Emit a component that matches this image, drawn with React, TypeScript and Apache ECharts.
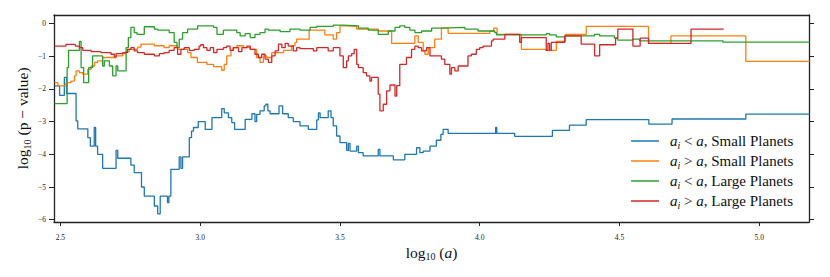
import React, { useEffect, useRef } from "react";
import * as echarts from "echarts";

const SERIES_NAMES = ["smallIn", "smallOut", "largeIn", "largeOut"];
const COLORS = ["#1f77b4", "#ff7f0e", "#2ca02c", "#d62728"];
const X_TICKS = [2.5, 3.0, 3.5, 4.0, 4.5, 5.0];
const Y_TICKS = [-6, -5, -4, -3, -2, -1, 0];
const X_MIN = 2.477;
const X_MAX = 5.178;
const Y_MIN = -6.07;
const Y_MAX = 0.26;

// a_i < a, Small Planets
const smallInner: [number, number][] = [
  [2.479, -1.91], [2.497, -2.2], [2.514, -1.65], [2.522, -2.14], [2.556, -2.98], [2.562, -3.22],
  [2.598, -3.49], [2.607, -3.75], [2.621, -3.18], [2.626, -3.75], [2.633, -4.0], [2.651, -4.43],
  [2.699, -3.88], [2.705, -4.12], [2.752, -4.33], [2.764, -4.56], [2.79, -5.0], [2.8, -5.28],
  [2.836, -5.58], [2.848, -5.82], [2.857, -5.28], [2.883, -5.48], [2.888, -5.28], [2.895, -4.46],
  [2.925, -4.08], [2.931, -4.43], [2.937, -4.08], [2.961, -3.49], [2.969, -3.29], [2.976, -3.18],
  [2.993, -3.0], [3.018, -3.24], [3.042, -2.88], [3.077, -2.6], [3.086, -2.73], [3.101, -2.88],
  [3.113, -3.03], [3.123, -3.24], [3.161, -2.93], [3.185, -2.76], [3.196, -3.0], [3.202, -2.78],
  [3.214, -2.67], [3.229, -2.52], [3.235, -2.47], [3.242, -2.67], [3.25, -2.76], [3.282, -2.52],
  [3.295, -2.76], [3.315, -2.88], [3.333, -3.0], [3.357, -3.13], [3.387, -3.24], [3.417, -2.95],
  [3.423, -2.73], [3.429, -2.88], [3.458, -2.67], [3.468, -2.88], [3.476, -3.13], [3.488, -3.44],
  [3.5, -3.64], [3.524, -3.88], [3.53, -3.67], [3.536, -3.9], [3.56, -3.75], [3.566, -3.95],
  [3.583, -4.05], [3.637, -3.85], [3.643, -4.05], [3.691, -4.17], [3.732, -4.0], [3.774, -3.8],
  [3.786, -3.95], [3.798, -3.9], [3.822, -3.75], [3.845, -3.57], [3.861, -3.39], [3.869, -3.24],
  [3.887, -3.36], [4.057, -3.18], [4.061, -3.36], [4.125, -3.45], [4.26, -3.27], [4.321, -3.11],
  [4.381, -2.94], [4.605, -3.08], [4.688, -2.92], [4.952, -2.77], [5.18, -2.77],
];

// a_i > a, Small Planets
const smallOuter: [number, number][] = [
  [2.479, -1.81], [2.491, -1.91], [2.52, -1.81], [2.538, -1.76], [2.55, -1.6], [2.556, -1.45],
  [2.568, -1.5], [2.58, -1.55], [2.598, -1.4], [2.61, -1.3], [2.622, -1.19], [2.633, -1.14],
  [2.651, -1.04], [2.699, -0.99], [2.723, -0.92], [2.735, -0.86], [2.746, -0.79], [2.776, -0.72],
  [2.788, -0.63], [2.836, -0.68], [2.871, -0.74], [2.889, -0.68], [2.919, -0.79], [2.955, -0.89],
  [2.967, -1.04], [2.99, -1.19], [3.024, -1.25], [3.048, -1.32], [3.077, -1.43], [3.086, -1.25],
  [3.095, -0.99], [3.11, -0.82], [3.117, -0.74], [3.131, -0.68], [3.155, -0.74], [3.179, -0.79],
  [3.202, -1.04], [3.214, -1.19], [3.226, -0.99], [3.238, -1.04], [3.256, -0.89], [3.298, -0.82],
  [3.327, -0.68], [3.339, -0.58], [3.345, -0.48], [3.39, -0.2], [3.446, -0.35], [3.476, -0.48],
  [3.488, -0.28], [3.5, -0.07], [3.518, -0.09], [3.56, -0.17], [3.637, -0.23], [3.685, -0.61],
  [3.768, -0.38], [3.78, -0.58], [3.798, -0.84], [3.804, -0.94], [3.816, -0.74], [3.839, -0.48],
  [3.863, -0.14], [3.887, -0.3], [4.036, -0.23], [4.05, -0.14], [4.062, -0.33], [4.149, -0.79],
  [4.236, -0.82], [4.274, -0.55], [4.307, -0.33], [4.381, -0.09], [4.604, -0.61], [4.684, -0.38],
  [4.952, -1.16], [5.18, -1.16],
];

// a_i < a, Large Planets
const largeInner: [number, number][] = [
  [2.479, -2.45], [2.524, -1.35], [2.529, -0.82], [2.568, -0.55], [2.574, -1.35], [2.583, -1.81],
  [2.601, -1.35], [2.615, -0.99], [2.651, -1.3], [2.657, -1.14], [2.675, -1.3], [2.687, -1.6],
  [2.699, -1.3], [2.705, -1.45], [2.735, -0.74], [2.743, -0.43], [2.752, -0.12], [2.764, -0.28],
  [2.774, -0.33], [2.8, -0.1], [2.836, -0.17], [2.848, -0.2], [2.889, -0.28], [2.907, -0.58],
  [2.917, -0.74], [2.925, -0.48], [2.937, -0.28], [2.955, -0.17], [2.991, -0.07], [3.048, -0.12],
  [3.06, -0.33], [3.083, -0.2], [3.131, -0.28], [3.143, -0.38], [3.161, -0.31], [3.179, -0.43],
  [3.196, -0.33], [3.214, -0.28], [3.232, -0.17], [3.244, -0.2], [3.286, -0.25], [3.321, -0.17],
  [3.357, -0.2], [3.393, -0.12], [3.417, -0.09], [3.476, -0.05], [3.512, -0.07], [3.566, -0.14],
  [3.601, -0.2], [3.637, -0.33], [3.673, -0.23], [3.697, -0.12], [3.714, -0.07], [3.732, -0.12],
  [3.75, -0.2], [3.768, -0.28], [3.792, -0.23], [3.828, -0.14], [3.863, -0.12], [3.947, -0.17],
  [3.994, -0.23], [4.054, -0.28], [4.06, -0.35], [4.238, -0.31], [4.25, -0.35], [4.274, -0.41],
  [4.304, -0.38], [4.411, -0.33], [4.429, -0.38], [4.482, -0.45], [4.494, -0.51], [4.548, -0.48],
  [4.572, -0.53], [4.87, -0.57], [5.18, -0.57],
];

// a_i > a, Large Planets
const largeOuter: [number, number][] = [
  [2.479, -0.69], [2.52, -0.64], [2.553, -0.69], [2.568, -0.74], [2.58, -0.82], [2.61, -0.86],
  [2.645, -0.89], [2.681, -0.94], [2.693, -1.02], [2.699, -0.92], [2.723, -0.89], [2.74, -0.79],
  [2.752, -0.74], [2.764, -0.84], [2.776, -0.89], [2.8, -0.94], [2.836, -0.99], [2.854, -0.92],
  [2.871, -0.89], [2.889, -0.82], [2.907, -0.74], [2.919, -0.94], [2.931, -0.79], [2.943, -0.74],
  [2.961, -0.82], [2.979, -0.79], [2.996, -0.69], [3.002, -0.65], [3.012, -0.74], [3.024, -0.82],
  [3.036, -0.74], [3.048, -0.89], [3.06, -0.79], [3.083, -0.74], [3.095, -0.69], [3.107, -0.82],
  [3.119, -0.74], [3.137, -0.86], [3.149, -0.74], [3.167, -0.69], [3.179, -0.79], [3.196, -0.94],
  [3.208, -1.04], [3.22, -0.94], [3.232, -1.09], [3.244, -1.19], [3.256, -0.99], [3.268, -0.84],
  [3.28, -0.63], [3.292, -0.74], [3.304, -0.61], [3.315, -0.69], [3.333, -0.84], [3.345, -0.74],
  [3.357, -0.77], [3.405, -0.84], [3.417, -0.74], [3.458, -0.84], [3.476, -0.74], [3.5, -0.99],
  [3.512, -1.35], [3.524, -1.14], [3.53, -0.99], [3.542, -0.92], [3.551, -0.79], [3.56, -1.25],
  [3.566, -1.35], [3.583, -1.5], [3.595, -1.6], [3.607, -1.76], [3.613, -1.65], [3.637, -2.16],
  [3.643, -2.67], [3.655, -2.47], [3.667, -2.06], [3.679, -1.88], [3.697, -2.22], [3.703, -1.9],
  [3.714, -1.25], [3.738, -1.04], [3.756, -0.79], [3.768, -0.69], [3.78, -0.74], [3.792, -0.84],
  [3.81, -0.74], [3.822, -0.99], [3.863, -1.09], [3.875, -1.25], [3.893, -1.55], [3.899, -1.35],
  [3.911, -1.45], [3.923, -1.3], [3.958, -0.99], [3.97, -0.94], [3.988, -0.79], [4.0, -0.74],
  [4.012, -0.69], [4.042, -0.53], [4.048, -0.48], [4.09, -0.33], [4.143, -0.58], [4.149, -0.43],
  [4.238, -0.82], [4.244, -0.61], [4.25, -0.82], [4.256, -0.58], [4.304, -0.38], [4.363, -0.63],
  [4.411, -0.99], [4.429, -0.65], [4.486, -0.45], [4.494, -0.17], [4.548, -0.69], [4.574, -0.45],
  [4.604, -0.61], [4.756, -0.17], [4.873, -0.17],
];

const SERIES_DATA = [smallInner, smallOuter, largeInner, largeOuter];
const LEGEND_LABELS: Record<string, string> = {
  smallIn: "{it|a}{sub|i}{n| < }{it|a}{n|, Small Planets}",
  smallOut: "{it|a}{sub|i}{n| > }{it|a}{n|, Small Planets}",
  largeIn: "{it|a}{sub|i}{n| < }{it|a}{n|, Large Planets}",
  largeOut: "{it|a}{sub|i}{n| > }{it|a}{n|, Large Planets}",
};
const X_TITLE = "{n|log}{s|10}{n| (}{i|a}{n|)}";
const Y_TITLE = "{n|log}{s|10}{n| (p \u2212 value)}";

const FONT = "'Liberation Serif', 'DejaVu Serif', serif";
const AXIS_COLOR = "#222";
const TXT = "#111";

export default function App() {
  const ref = useRef<HTMLDivElement>(null);
  useEffect(() => {
    if (!ref.current) return;
    const chart = echarts.init(ref.current, undefined, { renderer: "svg" });
    const fmtY = (v: number) => (v < 0 ? "\u2212" + Math.abs(v) : String(v));
    const titleRich = {
      n: { fontFamily: FONT, fontSize: 15.5, fill: TXT, lineHeight: 20 },
      s: { fontFamily: FONT, fontSize: 10, fill: TXT, lineHeight: 11, padding: [9, 0, 0, 0] },
      i: { fontFamily: FONT, fontSize: 15.5, fontStyle: "italic", fill: TXT, lineHeight: 20 },
    };
    chart.setOption({
      animation: false,
      grid: { left: 54, right: 21, top: 15, bottom: 55, containLabel: false },
      graphic: [
        {
          type: "text",
          x: 431.5,
          y: 252,
          silent: true,
          style: { text: X_TITLE, rich: titleRich, align: "center", verticalAlign: "middle", fill: TXT },
        },
        {
          type: "text",
          x: 22.7,
          y: 118.3,
          rotation: Math.PI / 2,
          silent: true,
          style: { text: Y_TITLE, rich: titleRich, align: "center", verticalAlign: "middle", fill: TXT },
        },
      ],
      legend: {
        orient: "vertical",
        left: 631,
        top: 132,
        padding: 0,
        itemWidth: 28,
        itemHeight: 1.5,
        itemGap: 2,
        icon: "rect",
        data: SERIES_NAMES,
        formatter: (name: string) => LEGEND_LABELS[name],
        textStyle: {
          fontFamily: FONT,
          fontSize: 15,
          color: TXT,
          padding: [0, 0, 0, 6],
          rich: {
            it: { fontFamily: FONT, fontSize: 15, fontStyle: "italic", color: TXT, lineHeight: 18 },
            sub: { fontFamily: FONT, fontSize: 10, fontStyle: "italic", color: TXT, lineHeight: 10, padding: [8, 0, 0, 0] },
            n: { fontFamily: FONT, fontSize: 15, color: TXT, lineHeight: 18 },
          },
        },
      },
      xAxis: [
        {
          type: "value",
          min: X_MIN,
          max: X_MAX,
          position: "bottom",
          axisLine: { show: true, onZero: false, lineStyle: { color: AXIS_COLOR, width: 1.3 } },
          axisTick: { show: true, customValues: X_TICKS, length: 4, lineStyle: { color: AXIS_COLOR } },
          axisLabel: {
            customValues: X_TICKS,
            formatter: (v: number) => v.toFixed(1),
            fontFamily: FONT,
            fontSize: 7.5,
            color: "#222",
            margin: 11,
          },
          splitLine: { show: false },
        },
        {
          type: "value",
          min: X_MIN,
          max: X_MAX,
          position: "top",
          axisLine: { show: true, onZero: false, lineStyle: { color: AXIS_COLOR, width: 1.3 } },
          axisTick: { show: false },
          axisLabel: { show: false },
          splitLine: { show: false },
        },
      ],
      yAxis: [
        {
          type: "value",
          min: Y_MIN,
          max: Y_MAX,
          position: "left",
          axisLine: { show: true, onZero: false, lineStyle: { color: AXIS_COLOR, width: 1.3 } },
          axisTick: { show: true, customValues: Y_TICKS, length: 5, lineStyle: { color: AXIS_COLOR } },
          axisLabel: {
            customValues: Y_TICKS,
            formatter: fmtY,
            fontFamily: FONT,
            fontSize: 7.5,
            color: "#222",
            margin: 8,
          },
          splitLine: { show: false },
        },
        {
          type: "value",
          min: Y_MIN,
          max: Y_MAX,
          position: "right",
          axisLine: { show: true, onZero: false, lineStyle: { color: AXIS_COLOR, width: 1.3 } },
          axisTick: { show: true, customValues: Y_TICKS, length: 5, lineStyle: { color: AXIS_COLOR } },
          axisLabel: { show: false },
          splitLine: { show: false },
        },
      ],
      series: SERIES_NAMES.map((name, i) => ({
        name,
        type: "line",
        step: "end",
        data: SERIES_DATA[i],
        xAxisIndex: 0,
        yAxisIndex: 0,
        symbol: "none",
        showSymbol: false,
        color: COLORS[i],
        lineStyle: { color: COLORS[i], width: 1.3 },
        itemStyle: { color: COLORS[i] },
        silent: true,
      })),
    });
    return () => chart.dispose();
  }, []);
  return (
    <div
      ref={ref}
      style={{ position: "absolute", left: 0, top: 0, width: 830, height: 277 }}
    />
  );
}
